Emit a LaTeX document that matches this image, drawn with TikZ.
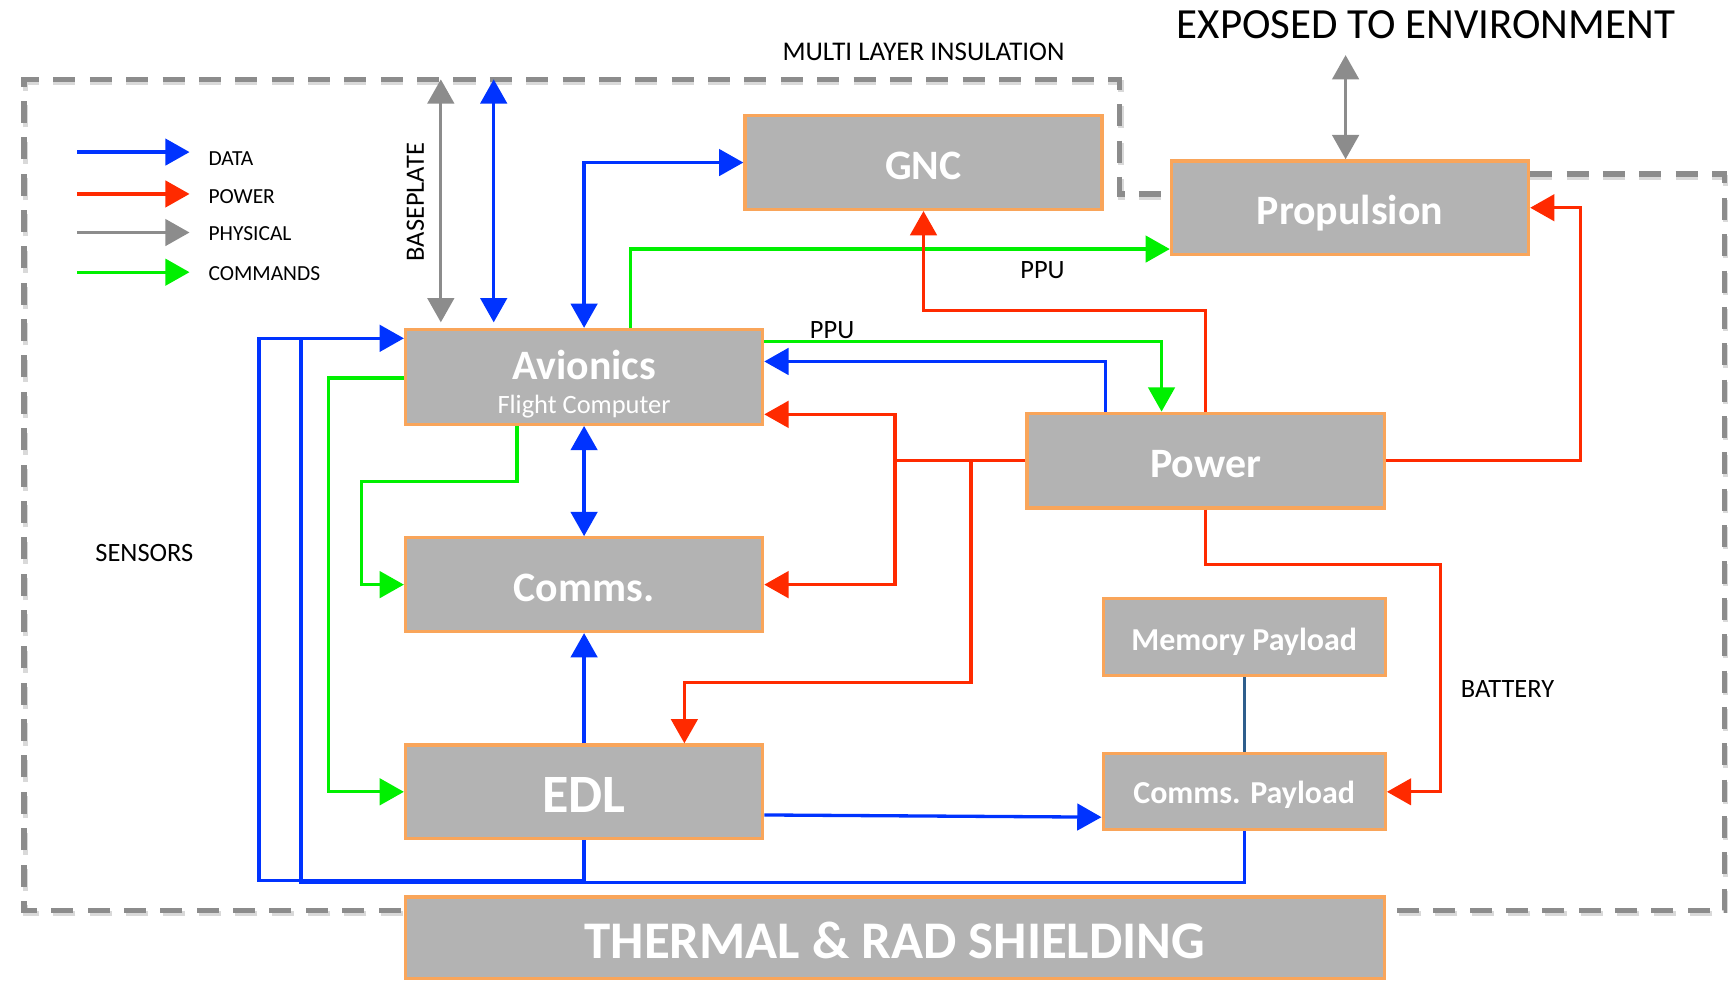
\documentclass[tikz,border=0pt]{standalone}
\usepackage{fontspec}
\setmainfont{Carlito}
\usetikzlibrary{arrows.meta}
\definecolor{boxfill}{RGB}{179,179,179}
\definecolor{boxline}{RGB}{249,165,90}
\definecolor{cdata}{RGB}{0,51,255}
\definecolor{cpower}{RGB}{255,42,0}
\definecolor{cphys}{RGB}{140,140,140}
\definecolor{ccmd}{RGB}{0,240,0}
\definecolor{clink}{RGB}{46,94,140}
\definecolor{cdash}{RGB}{140,140,140}
\pgfdeclarelayer{bg}
\pgfsetlayers{bg,main}
\tikzset{
  bigtri/.tip={Triangle[length=22pt,width=24pt]},
  blk/.style={draw=boxline, fill=boxfill, line width=3pt, inner sep=0pt, text=white, text depth=0pt},
  dataln/.style={draw=cdata, line width=3pt},
  pwrln/.style={draw=cpower, line width=3pt},
  physln/.style={draw=cphys, line width=3pt},
  cmdln/.style={draw=ccmd, line width=3pt},
  linkln/.style={draw=clink, line width=2.5pt},
  lbl/.style={inner sep=0pt, font=\fontsize{19.5}{22}\selectfont},
  midlbl/.style={inner sep=0pt, font=\fontsize{24}{28}\selectfont},
  bigfont/.style={font=\fontsize{38}{42}\selectfont\bfseries, text height=30pt},
}
\begin{document}
\begin{tikzpicture}[x=1pt,y=-1pt]
\useasboundingbox (0,0) rectangle (1568,890);

% ---------- blocks ----------
\node[blk, bigfont, minimum width=324pt, minimum height=85pt] (gnc) at (838,147.5) {GNC};
\node[blk, bigfont, minimum width=324pt, minimum height=85pt] (prop) at (1225,188.5) {Propulsion};
\node[blk, minimum width=324pt, minimum height=86pt] (avi) at (530,342) {};
\node[inner sep=0pt, text=white, font=\fontsize{38}{42}\selectfont\bfseries] (avitxt) at (530,331) {Avionics};
\node[inner sep=0pt, text=white, font=\fontsize{24}{28}\selectfont] (avisub) at (530,369) {Flight Computer};
\node[blk, bigfont, minimum width=324pt, minimum height=86pt] (power) at (1094,418) {Power};
\node[blk, bigfont, minimum width=324pt, minimum height=85pt] (comms) at (530,530.5) {Comms.};
\node[blk, font=\fontsize{29}{33}\selectfont\bfseries, text height=24pt, minimum width=256pt, minimum height=70pt] (mem) at (1129,578) {Memory Payload};
\node[blk, font=\fontsize{49}{53}\selectfont\bfseries, text height=38pt, minimum width=324pt, minimum height=85pt] (edl) at (530,718.5) {EDL};
\node[blk, font=\fontsize{29}{33}\selectfont\bfseries, text height=22pt, minimum width=256pt, minimum height=69pt] (cpay) at (1129,718.5) {Comms. Payload};
\node[blk, font=\fontsize{48}{52}\selectfont\bfseries, text height=38pt, minimum width=888pt, minimum height=74pt] (thermal) at (812,851) {THERMAL \& RAD SHIELDING};

% ---------- boundary (multi layer insulation) ----------
\begin{pgfonlayer}{bg}
\draw[black!25, line width=5pt, dash pattern=on 20pt off 13pt, opacity=0.6, xshift=1pt, yshift=-3pt]
  (prop.east |- 0,158) -- (1565,158) -- (1565,826) -- (22,826) -- (22,72) -- (1016,72) -- (1016,176) -- (prop.west |- 0,176);
\draw[cdash, line width=5pt, dash pattern=on 20pt off 13pt]
  (prop.east |- 0,158) -- (1565,158) -- (1565,826) -- (22,826) -- (22,72) -- (1016,72) -- (1016,176) -- (prop.west |- 0,176);
\end{pgfonlayer}

% ---------- texts ----------
\node[inner sep=0pt, font=\fontsize{24.5}{28}\selectfont] (mli) at (838,47) {MULTI LAYER INSULATION};
\node[inner sep=0pt, font=\fontsize{39}{43}\selectfont] (env) at (1294,22) {EXPOSED TO ENVIRONMENT};
\node[midlbl] (sens) at (131,502) {SENSORS};
\node[midlbl, rotate=90] (base) at (377,183.5) {BASEPLATE};
\node[midlbl] (ppu1) at (946,245) {PPU};
\node[midlbl] (ppu2) at (755,300) {PPU};
\node[midlbl] (batt) at (1368,625) {BATTERY};

% ---------- legend ----------
\coordinate (la1) at (70,138);  \coordinate (la2) at (172,138);
\coordinate (lb1) at (70,176);  \coordinate (lb2) at (172,176);
\coordinate (lc1) at (70,211);  \coordinate (lc2) at (172,211);
\coordinate (ld1) at (70,247);  \coordinate (ld2) at (172,247);
\draw[dataln, -{bigtri}] (la1) -- (la2);
\draw[pwrln, -{bigtri}] (lb1) -- (lb2);
\draw[physln, -{bigtri}] (lc1) -- (lc2);
\draw[cmdln, -{bigtri}] (ld1) -- (ld2);
\node[lbl, anchor=west] (lta) at (189,143.5) {DATA};
\node[lbl, anchor=west] (ltb) at (189,178) {POWER};
\node[lbl, anchor=west] (ltc) at (189,212) {PHYSICAL};
\node[lbl, anchor=west] (ltd) at (189,248) {COMMANDS};

% ---------- coordinates ----------
\coordinate (bptop) at (400,72);
\coordinate (dtop) at (448,72);
\coordinate (envtip) at (1221,50);
\coordinate (r1) at (838,282);
\coordinate (g0) at (0,310);
\coordinate (yb) at (0,328);
\coordinate (ya) at (0,376);
\coordinate (rj1) at (812,418);
\coordinate (rj2) at (881,418);
\coordinate (e1) at (621,619);
\coordinate (rp) at (1434,418);
\coordinate (bt) at (1307,512);
\coordinate (g1) at (328,437);
\coordinate (g2) at (298,343);
\coordinate (ys) at (0,307);
\coordinate (sA) at (235,799);
\coordinate (sB) at (273,801);

% ---------- connectors ----------
\draw[physln, {bigtri}-{bigtri}] (bptop) -- ([yshift=5pt]avi.north -| bptop);
\draw[dataln, {bigtri}-{bigtri}] (dtop) -- ([yshift=5pt]avi.north -| dtop);
\draw[physln, {bigtri}-{bigtri}] (envtip) -- (prop.north -| envtip);

\draw[dataln, {bigtri}-{bigtri}] (avi.north) |- (gnc.west);
\draw[cmdln, -{bigtri}] ([xshift=42pt]avi.north) |- ([yshift=-37.5pt]prop.west);
\draw[pwrln, -{bigtri}] (power.north) |- (r1) -- (gnc.south);
\draw[cmdln, -{bigtri}] (avi.east |- g0) -| ([xshift=-40pt]power.north);
\draw[dataln, -{bigtri}] ([xshift=-91pt]power.north) |- (avi.east |- yb);
\draw[pwrln, -{bigtri}] (power.west) -- (rj1) |- (avi.east |- ya);
\draw[pwrln, -{bigtri}] (rj1) |- (comms.east);
\draw[pwrln, -{bigtri}] (rj2) |- (e1) -- (e1 |- edl.north);
\draw[pwrln, -{bigtri}] (power.east) -- (rp) |- (prop.east);
\draw[pwrln, -{bigtri}] (power.south) |- (bt) |- (cpay.east);
\draw[dataln, {bigtri}-{bigtri}] (avi.south) -- (comms.north);
\draw[cmdln, -{bigtri}] ([xshift=-61pt]avi.south) |- (g1) |- (comms.west);
\draw[cmdln, -{bigtri}] (avi.west |- g2) -- (g2) |- (edl.west);
\draw[dataln, -{bigtri}] (edl.north) -- (comms.south);
\draw[dataln, -{bigtri}] ([yshift=-21pt]edl.east) -- ([yshift=-23pt]cpay.west);
\draw[dataln, -{bigtri}] (edl.south) |- (sA) |- (avi.west |- ys);
\draw[dataln] (cpay.south) |- (sB) -- (sB |- ys);
\draw[linkln] (mem.south) -- (cpay.north);
\end{tikzpicture}
\end{document}
